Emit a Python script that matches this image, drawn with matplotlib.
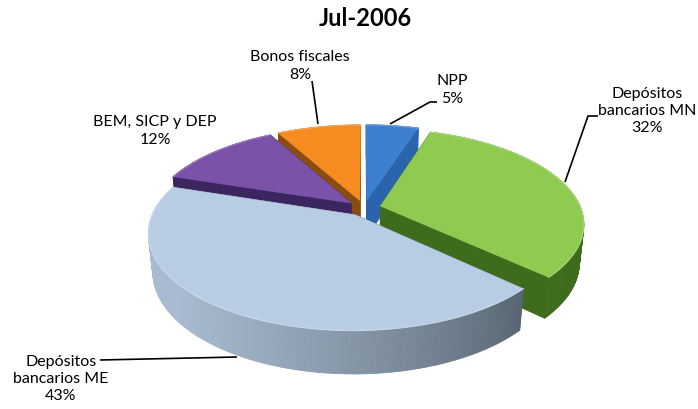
import numpy as np
import matplotlib
matplotlib.use("Agg")
import matplotlib.pyplot as plt
from matplotlib.patches import Polygon
from matplotlib import colors as mcolors

# ---------------- data ----------------
title = "Jul-2006"
categories = ["NPP", "Depósitos\nbancarios MN", "Depósitos\nbancarios ME",
              "BEM, SICP y DEP", "Bonos fiscales"]
shares = [5, 32, 43, 12, 8]
pct_labels = ["5%", "32%", "43%", "12%", "8%"]

top_colors = ["#3d80d0", "#8fcb50", "#b8cce4", "#7b52aa", "#f68c20"]
side_light = ["#2a64ad", "#3f6c1c", "#a8bbd0", "#3c2660", "#8b4c12"]
side_dark = ["#2a64ad", "#3f6c1c", "#505c68", "#3c2660", "#8b4c12"]

# label centres (pixels) and leader lines (pixels)
label_pos = [(452, 90), (647, 111), (61, 379), (155, 131), (300, 66)]
leaders = [
    [(437, 103), (430, 103), (390, 125)],
    [(598, 117), (588, 117), (565, 183)],
    [(100, 361), (237, 358)],
    None,
    [(312, 82), (318, 125)],
]

# ---------------- figure ----------------
W, H = 698, 410
fig = plt.figure(figsize=(W / 100, H / 100), dpi=100)
ax = fig.add_axes([0, 0, 1, 1])
ax.set_xlim(0, W)
ax.set_ylim(H, 0)
ax.axis("off")

phi = np.radians(27.3)
D, F = 4.87, 975.0
CX, CY = 364.0, 209.0
cphi, sphi = np.cos(phi), np.sin(phi)
explode = 0.085
thick = 0.215


def proj(X, Y, Z):
    depth = D + Y * cphi - Z * sphi
    return (CX + F * X / depth, CY - F * (Y * sphi + Z * cphi) / depth, depth)


def mix(c1, c2, w):
    a = np.array(mcolors.to_rgb(c1))
    b = np.array(mcolors.to_rgb(c2))
    return tuple(np.clip(a * w + b * (1 - w), 0, 1))


faces = []   # (depth, xy, color)
tops = []
rims = []
total = float(sum(shares))
start = 90.0
for i, v in enumerate(shares):
    a2 = start
    a1 = start - 360.0 * v / total
    start = a1
    mid = np.radians((a1 + a2) / 2)
    ox, oy = explode * np.cos(mid), explode * np.sin(mid)
    n = max(int(abs(a2 - a1) * 1.5), 4)
    t = np.radians(np.linspace(a2, a1, n))
    ex, ey = ox + np.cos(t), oy + np.sin(t)

    # top surface
    pts = [proj(ox, oy, 0)] + [proj(x, y, 0) for x, y in zip(ex, ey)]
    dmean = np.mean([p[2] for p in pts])
    tops.append((dmean, [(p[0], p[1]) for p in pts], top_colors[i]))
    rims.append([(p[0], p[1]) for p in pts[1:]])

    # outer wall
    for j in range(n - 1):
        p1 = proj(ex[j], ey[j], 0)
        p2 = proj(ex[j + 1], ey[j + 1], 0)
        p3 = proj(ex[j + 1], ey[j + 1], -thick)
        p4 = proj(ex[j], ey[j], -thick)
        tm = (t[j] + t[j + 1]) / 2
        dot = np.cos(tm - np.radians(200))
        w = np.clip((dot + 0.6) / 1.55, 0, 1)
        col = mix(side_light[i], side_dark[i], w)
        d = np.mean([p1[2], p2[2], p3[2], p4[2]])
        faces.append((d, [(p[0], p[1]) for p in (p1, p2, p3, p4)], col))

    # radial faces
    for ang in (a2, a1):
        r = np.radians(ang)
        q1 = proj(ox, oy, 0)
        q2 = proj(ox + np.cos(r), oy + np.sin(r), 0)
        q3 = proj(ox + np.cos(r), oy + np.sin(r), -thick)
        q4 = proj(ox, oy, -thick)
        d = np.mean([q1[2], q2[2], q3[2], q4[2]])
        faces.append((d, [(p[0], p[1]) for p in (q1, q2, q3, q4)], side_dark[i]))

for d, xy, col in sorted(faces, key=lambda f: -f[0]):
    ax.add_patch(Polygon(xy, closed=True, facecolor=col, edgecolor=col,
                         linewidth=0.6, zorder=2))
for k, (d, xy, col) in enumerate(sorted(tops, key=lambda f: -f[0])):
    ax.add_patch(Polygon(xy, closed=True, facecolor=col, edgecolor=col,
                         linewidth=0.4, zorder=3))
for i, rim in enumerate(rims):
    rx, ry = zip(*rim)
    ax.plot(rx, ry, color=mix("#ffffff", top_colors[i], 0.35), linewidth=0.9,
            alpha=0.7, zorder=4)

# ---------------- text ----------------
font = ["Lato", "DejaVu Sans"]
ax.text(365, 19, title, ha="center", va="center", fontsize=17,
        fontweight="bold", family=font, color="#000000", zorder=5)

for i, (cat, pct) in enumerate(zip(categories, pct_labels)):
    x, y = label_pos[i]
    ax.text(x, y, cat + "\n" + pct, ha="center", va="center", fontsize=11.5,
            family=font, color="#000000", linespacing=1.3, zorder=5)
    if leaders[i] is not None:
        lx, ly = zip(*leaders[i])
        ax.plot(lx, ly, color="#000000", linewidth=1.2, zorder=5,
                solid_capstyle="butt")

fig.savefig("out.png", dpi=100, facecolor="white")
